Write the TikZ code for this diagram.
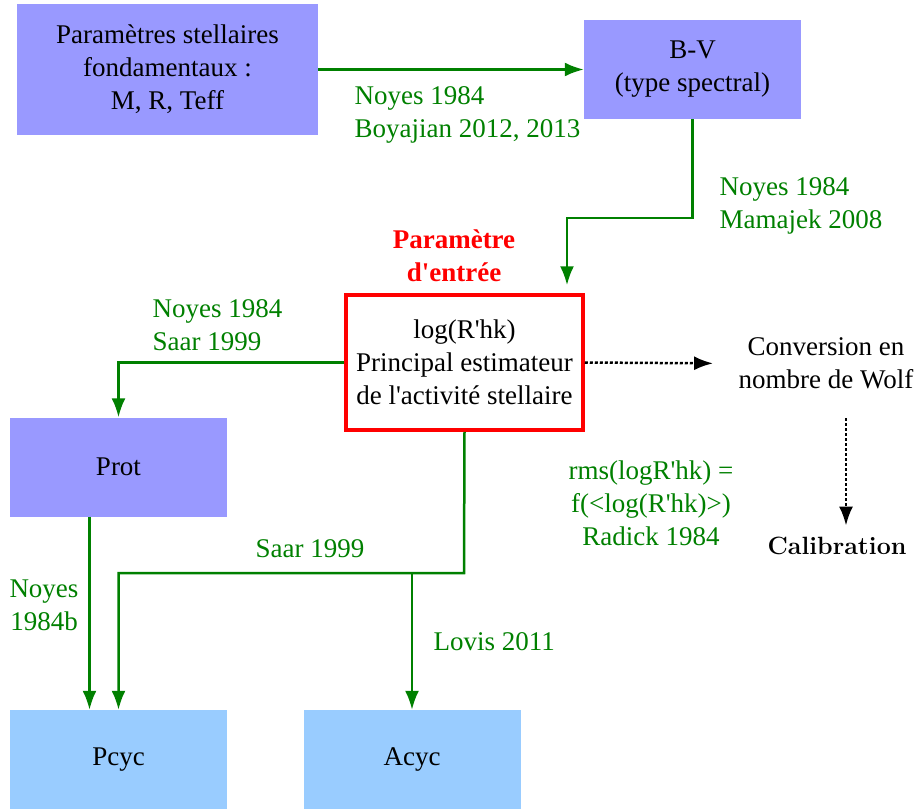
\documentclass[tikz,border=0pt]{standalone}
\usepackage{fontspec}
\setmainfont{Liberation Serif}[Ligatures=TeXOff]
\usetikzlibrary{
    arrows.meta % For arrow tips
}
\definecolor{boxpurple}{HTML}{9999FF}
\definecolor{boxblue}{HTML}{99CCFF}
\definecolor{refgreen}{HTML}{008000}

\begin{document}
\begin{tikzpicture}[
    x=1pt, y=-1pt,
    >=Latex,
    every node/.style={font=\rmfamily\fontsize{27}{33}\selectfont},
    box/.style={fill=boxpurple, minimum width=217pt, minimum height=99pt, align=center},
    cycbox/.style={box, fill=boxblue},
    link/.style={draw=refgreen, line width=2.5pt, -{Latex[length=19pt,width=14pt]}},
    dotlink/.style={line width=2.5pt, dash pattern=on 3pt off 2pt, -{Latex[length=19pt,width=14pt]}},
    ref/.style={text=refgreen, align=left}
]
    \useasboundingbox (0,0) rectangle (919,809);

    % Boxes
    \node[box, minimum width=301pt, minimum height=131pt] (param) at (167.5,69.5)
        {Paramètres stellaires\\fondamentaux :\\M, R, Teff};
    \node[box] (bv) at (692.5,69.5) {B-V\\(type spectral)};
    \node[draw=red, line width=3.5pt, minimum width=237pt, minimum height=135pt, align=center]
        (entry) at (464.5,362.5) {log(R'hk)\\Principal estimateur\\de l'activité stellaire};
    \node[box] (prot) at (118.5,467) {Prot};
    \node[cycbox] (pcyc) at (118.5,759.5) {Pcyc};
    \node[cycbox] (acyc) at (412,759.5) {Acyc};

    % Input label
    \node[text=red, font=\rmfamily\fontsize{27}{33}\selectfont\bfseries, align=center] (lbl) at (454,256)
        {Paramètre\\d'entrée};

    % Wolf number branch
    \node[align=center] (wolf) at (826,363.5) {Conversion en\\nombre de Wolf};
    \node[font=\fontfamily{lmr}\fontseries{bx}\fontsize{25}{30}\selectfont] (calib) at (837,546) {Calibration};

    % References
    \node[ref, anchor=west] (r1) at (351,115) {Noyes 1984\\Boyajian 2012, 2013};
    \node[ref, anchor=west] (r2) at (716,206) {Noyes 1984\\Mamajek 2008};
    \node[ref, anchor=west] (r3) at (149,325) {Noyes 1984\\Saar 1999};
    \node[ref, align=center] (r4) at (651,503) {rms(logR'hk) =\\f(<log(R'hk)>)\\Radick 1984};
    \node[ref, align=center] (r5) at (44,605) {Noyes\\1984b};
    \node[ref] (r6) at (310,549) {Saar 1999};
    \node[ref, anchor=west] (r7) at (430,642) {Lovis 2011};

    % Bend points
    \coordinate (k1) at (567,218);
    \coordinate (k2) at (464,573);
    \coordinate (k3) at (846,418);

    % Green links
    \draw[link] (param.east) -- (bv.west);
    \draw[link, shorten >=8pt] (bv.south) |- (k1) -- (k1 |- entry.north);
    \draw[link] (entry.west) -| (prot.north);
    \draw[link] ([xshift=-29pt]prot.south) -- ([xshift=-29pt]pcyc.north);
    \draw[link] (entry.south) -- (k2) -| (pcyc.north);
    \draw[link] (k2 -| acyc.north) -- (acyc.north);

    % Dotted links
    \draw[dotlink, shorten >=22pt] (entry.east) -- (wolf.west);
    \draw[dotlink, shorten >=8pt] (k3) -- (k3 |- calib.north);

\end{tikzpicture}
\end{document}
